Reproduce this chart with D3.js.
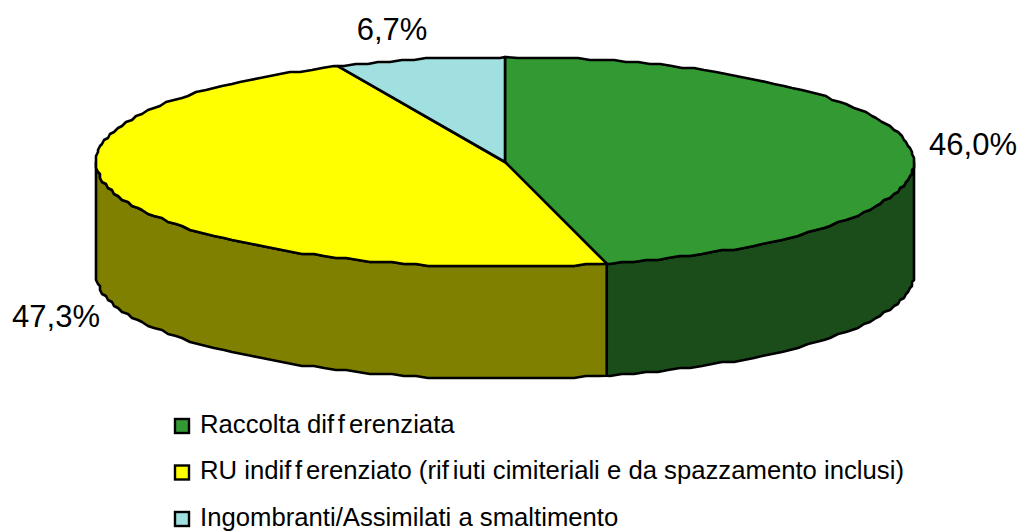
<!DOCTYPE html>
<html><head><meta charset="utf-8">
<style>html,body{margin:0;padding:0;background:#fff}svg{display:block}text{font-family:"Liberation Sans",Arial,sans-serif;fill:#000}</style>
<script src="https://cdn.jsdelivr.net/npm/d3@7"></script></head><body><svg id="c" width="1019" height="531"></svg>
<script>
const categories=["Raccolta differenziata","RU indifferenziato (rifiuti cimiteriali e da spazzamento inclusi)","Ingombranti/Assimilati a smaltimento"];
const values=[46.0,47.3,6.7];
const valueLabels=["46,0%","47,3%","6,7%"];
const topColors=["#339933","#ffff00","#a1e0e0"];
const sideColors=["#1a4d1a","#808000","#508080"];
const W=1019,H=531,cx=505,cy=162,rx=409,ry=105,depth=112;
const svg=d3.select("#c");
const sx=d3.scaleLinear().domain([-1,1]).range([cx-rx,cx+rx]);
const sy=d3.scaleLinear().domain([-1,1]).range([cy-ry,cy+ry]);
const arcs=d3.pie().sort(null).value(d=>d).startAngle(0).endAngle(2*Math.PI)(values);
const STEP=0.03,GRID=2;
const snap=v=>Math.round(v/GRID)*GRID;
// outline sampled on one shared angle grid, so neighbouring faces trace the same edge
function pts(a0,a1,dy){
  const out=[[sx(Math.sin(a0)),sy(-Math.cos(a0))+dy]];
  for(let k=Math.floor(a0/STEP)+1;k*STEP<a1;k++){const a=k*STEP;out.push([snap(sx(Math.sin(a))),snap(sy(-Math.cos(a)))+dy]);}
  out.push([sx(Math.sin(a1)),sy(-Math.cos(a1))+dy]);
  return out;}
const line=d3.line();
const strokeW=2.6;
// side walls: only the visible front half (90° to 270°)
arcs.forEach((d,i)=>{
  const a0=Math.max(d.startAngle,Math.PI/2),a1=Math.min(d.endAngle,Math.PI*1.5);
  if(a1<=a0)return;
  const top=pts(a0,a1,0),bot=pts(a0,a1,depth).reverse();
  svg.append("path").attr("d",line(top.concat(bot))+"Z").attr("fill",sideColors[i]).attr("stroke","#000").attr("stroke-width",strokeW).attr("stroke-linejoin","round");
});
// top faces
arcs.forEach((d,i)=>{
  const p=pts(d.startAngle,d.endAngle,0);p.push([cx,cy]);
  svg.append("path").attr("d",line(p)+"Z").attr("fill",topColors[i]).attr("stroke","#000").attr("stroke-width",strokeW).attr("stroke-linejoin","round");
});
const labelPos=[[973,155],[56,327],[392,40]];
valueLabels.forEach((t,i)=>svg.append("text").attr("x",labelPos[i][0]).attr("y",labelPos[i][1]).attr("text-anchor","middle").attr("font-size",31).text(t));
const legY=d3.scalePoint().domain(categories).range([426,519]);
categories.forEach((c,i)=>{
  const y=legY(c);
  svg.append("rect").attr("x",175).attr("y",y-7).attr("width",14).attr("height",14).attr("fill",topColors[i]).attr("stroke","#000").attr("stroke-width",2.4);
  const t=svg.append("text").attr("x",200).attr("y",y+6.5).attr("font-size",25.7);
  c.split(/(?<=f)/).forEach((s,k)=>t.append("tspan").attr("dx",k?4:0).text(s));
});
</script></body></html>
